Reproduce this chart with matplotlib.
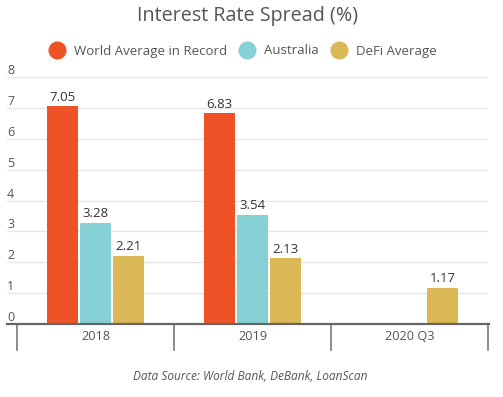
import matplotlib
matplotlib.use("Agg")
import matplotlib.pyplot as plt
from matplotlib.lines import Line2D
import numpy as np

plt.rcParams['font.family'] = ['Open Sans', 'DejaVu Sans']

categories = ["2018", "2019", "2020 Q3"]
series_names = ["World Average in Record", "Australia", "DeFi Average"]
world = [7.05, 6.83, None]
australia = [3.28, 3.54, None]
defi = [2.21, 2.13, 1.17]
yticks = [0, 1, 2, 3, 4, 5, 6, 7, 8]

colors = ["#F05228", "#86D0D6", "#DAB856"]
text_col = "#555555"

W, H = 503, 397
fig = plt.figure(figsize=(W / 100, H / 100), dpi=100)
ax = fig.add_axes([7 / W, 1 - 324 / H, (489 - 7) / W, (324 - 77) / H])

cw = 157.0
ax.set_xlim(-0.5 - 10 / cw, 2.5 + 1 / cw)
ax.set_ylim(0, 8)

bw = 31 / cw
step = 33 / cw
x = np.arange(len(categories))
for k, (vals, col) in enumerate(zip([world, australia, defi], colors)):
    off = (k - 1) * step
    for i, v in enumerate(vals):
        if v is None:
            continue
        ax.bar(x[i] + off, v, width=bw, color=col, zorder=3)
        ax.text(x[i] + off, v + 0.08, f"{v:.2f}", ha="center", va="bottom",
                fontsize=9.5, color="#333333", zorder=4)

# gridlines
for t in yticks[1:]:
    ax.plot([0, 1 - 2 / 482], [t, t], transform=ax.get_yaxis_transform(),
            color="#E6E6E6", lw=1, zorder=1)
# y labels above gridlines
for t in yticks:
    ax.text(0, t, str(t), transform=ax.get_yaxis_transform(), ha="left",
            va="bottom", fontsize=9, color=text_col)

ax.set_xticks([])
ax.set_yticks([])
for s in ["top", "right", "left"]:
    ax.spines[s].set_visible(False)
ax.spines["bottom"].set_color("#666666")
ax.spines["bottom"].set_linewidth(1.6)
ax.spines["bottom"].set_zorder(5)

# category separators
trans = ax.get_xaxis_transform()
sep_len = 26 / (324 - 77)
for b in [-0.5, 0.5, 1.5, 2.5]:
    ax.add_line(Line2D([b, b], [0, -sep_len], transform=trans, color="#777777",
                       lw=1.2, clip_on=False))
for i, c in enumerate(categories):
    ax.text(x[i], -13 / (324 - 77), c, transform=trans, ha="center",
            va="center", fontsize=9.2, color=text_col)

fig.text(248 / W, 1 - 16 / H, "Interest Rate Spread (%)", ha="center",
         va="center", fontsize=14.2, color=text_col)
fig.text(250 / W, 1 - 377 / H, "Data Source: World Bank, DeBank, LoanScan",
         ha="center", va="center", fontsize=8.6, style="italic", color=text_col)

handles = [Line2D([], [], marker="o", linestyle="none", markersize=12,
                  markerfacecolor=c, markeredgecolor=c) for c in colors]
fig.legend(handles, series_names, loc="center", bbox_to_anchor=(243 / W, 1 - 51 / H),
           ncol=3, frameon=False, fontsize=9.5, labelcolor=text_col,
           handletextpad=0.7, columnspacing=0.9, handlelength=1.2)

fig.savefig("out.png", dpi=100)
